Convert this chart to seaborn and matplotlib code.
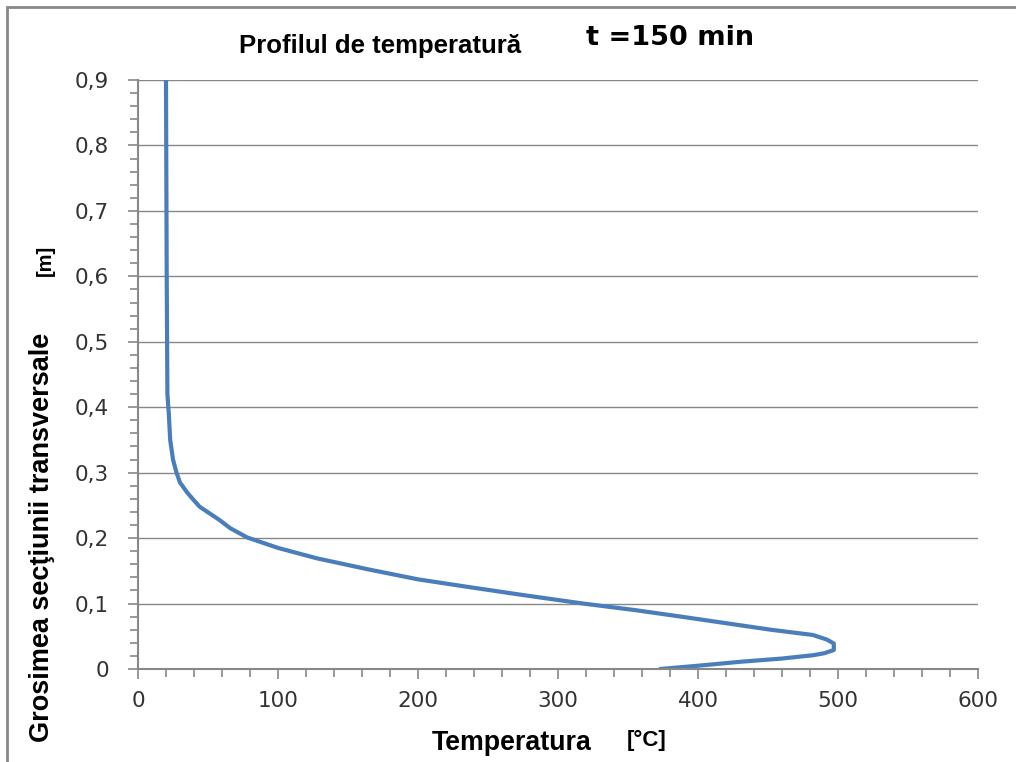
import matplotlib
matplotlib.use("Agg")
import pandas as pd
import seaborn as sns
import matplotlib.pyplot as plt
from matplotlib.ticker import MultipleLocator, FuncFormatter
from matplotlib.patches import Rectangle

# temperature profile at t = 150 min
temperatura = [20, 20.5, 21, 22, 23, 25, 27.5, 30, 35, 39, 44, 51, 58, 66,
               78, 100, 128, 165, 200, 237, 275, 318, 355, 388, 420, 452,
               482, 492, 497, 497, 490, 482, 460, 430, 400, 373]
grosime = [0.90, 0.60, 0.42, 0.39, 0.35, 0.32, 0.30, 0.285, 0.27, 0.26,
           0.248, 0.238, 0.228, 0.215, 0.201, 0.185, 0.169, 0.152, 0.137,
           0.125, 0.113, 0.100, 0.090, 0.080, 0.070, 0.060, 0.052, 0.045,
           0.039, 0.029, 0.024, 0.021, 0.016, 0.011, 0.005, 0.0]

df = pd.DataFrame({"T": temperatura, "y": grosime})

sns.set_style("white")
plt.rcParams["font.family"] = ["DejaVu Sans"]

fig = plt.figure(figsize=(10.16, 7.62), dpi=100)
ax = fig.add_axes([138 / 1016, 1 - 669 / 762, 840 / 1016, 589 / 762])

sns.lineplot(data=df, x="T", y="y", sort=False, estimator=None,
             color="#4a7ebb", linewidth=3, ax=ax)

ax.set_xlim(0, 600)
ax.set_ylim(0, 0.9)
ax.xaxis.set_major_locator(MultipleLocator(100))
ax.xaxis.set_minor_locator(MultipleLocator(20))
ax.yaxis.set_major_locator(MultipleLocator(0.1))
ax.yaxis.set_minor_locator(MultipleLocator(0.02))
ax.yaxis.set_major_formatter(FuncFormatter(
    lambda v, p: "0" if abs(v) < 1e-9 else f"{v:.1f}".replace(".", ",")))

ax.grid(axis="y", color="#888888", linewidth=1)
ax.grid(axis="x", visible=False)
for s in ["top", "right"]:
    ax.spines[s].set_visible(False)
for s in ["left", "bottom"]:
    ax.spines[s].set_color("#888888")
    ax.spines[s].set_linewidth(1.5)

ax.tick_params(which="both", direction="out", color="#888888", width=1.2,
               labelsize=15.5, labelcolor="#333333")
ax.tick_params(which="major", length=7)
ax.tick_params(which="minor", length=6)
ax.tick_params(axis="y", which="major", pad=14)
ax.tick_params(axis="x", which="major", pad=9)
ax.tick_params(left=True, bottom=True, which="both")
ax.set_xlabel("")
ax.set_ylabel("")

bold = dict(family="Liberation Sans", weight="bold", color="black")
fig.text(380 / 1016, 1 - 46 / 762, "Profilul de temperatură", fontsize=18.5,
         ha="center", va="center", **bold)
fig.text(670 / 1016, 1 - 38 / 762, "t =150 min", fontsize=19.5,
         ha="center", va="center", family="DejaVu Sans", weight="bold",
         color="black")
fig.text(42 / 1016, 1 - 537 / 762, "Grosimea secţiunii transversale",
         fontsize=19.5, rotation=90, ha="center", va="center", **bold)
fig.text(45 / 1016, 1 - 260 / 762, "[m]", fontsize=14.5, rotation=90,
         ha="center", va="center", **bold)
fig.text(512 / 1016, 1 - 743 / 762, "Temperatura", fontsize=19.3,
         ha="center", va="center", **bold)
fig.text(647 / 1016, 1 - 740 / 762, "[°C]", fontsize=16,
         ha="center", va="center", **bold)

# outer chart frame
fig.patches.append(Rectangle((7 / 1016, -0.1), 1.2, 1 - 7 / 762 + 0.1,
                             transform=fig.transFigure, fill=False,
                             edgecolor="#888888", linewidth=2))

fig.savefig("out.png", dpi=100)
